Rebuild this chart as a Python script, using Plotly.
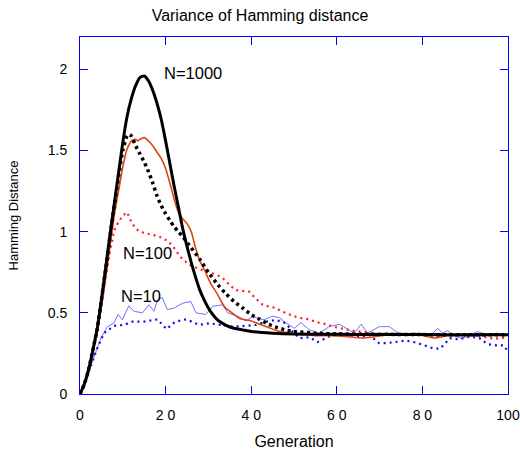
import plotly.graph_objects as go

# ---- data ----
gen_1000_mean = [0, 1, 2, 3, 4, 5, 6, 7, 8, 9, 10, 11, 12, 13, 14, 15, 16, 17, 18, 19, 20,
                 21, 22, 23, 24, 25, 26, 27, 28, 29, 30, 31, 32, 33, 34, 36, 38, 40, 45, 50,
                 60, 70, 80, 90, 100]
var_1000_mean = [0, 0.06, 0.15, 0.27, 0.40, 0.58, 0.78, 0.98, 1.17, 1.36, 1.55, 1.71, 1.82,
                 1.90, 1.95, 1.96, 1.93, 1.87, 1.79, 1.69, 1.56, 1.42, 1.28, 1.15, 1.02, 0.91,
                 0.81, 0.72, 0.64, 0.58, 0.53, 0.49, 0.46, 0.44, 0.425, 0.405, 0.395, 0.385,
                 0.375, 0.37, 0.368, 0.366, 0.366, 0.365, 0.365]

gen_1000_b = [0, 1, 2, 3, 4, 5, 6, 7, 8, 9, 10, 11, 11.5, 12, 13, 14, 15, 16, 17, 18, 19, 20,
              21, 22, 23, 24, 26, 28, 30, 32, 34, 36, 38, 40, 42, 44, 46, 48, 50, 55, 60, 70,
              80, 90, 100]
var_1000_b = [0, 0.06, 0.15, 0.27, 0.40, 0.58, 0.77, 0.97, 1.16, 1.34, 1.50, 1.59, 1.60, 1.59,
              1.53, 1.48, 1.43, 1.37, 1.30, 1.22, 1.16, 1.11, 1.07, 1.03, 1.00, 0.97, 0.90,
              0.83, 0.75, 0.68, 0.62, 0.57, 0.53, 0.49, 0.46, 0.43, 0.41, 0.395, 0.385, 0.375,
              0.37, 0.368, 0.366, 0.365, 0.365]

gen_100_mean = [0, 1, 2, 3, 4, 5, 6, 7, 8, 9, 10, 11, 12, 13, 13.5, 14, 15, 16, 17, 18, 19,
                20, 21, 22, 23, 24, 25, 26, 27, 28, 29, 30, 31, 32, 33, 34, 35, 36, 37, 38, 40,
                42, 44, 46, 48, 50, 52, 55, 58, 62, 66, 68, 72, 76, 80, 83, 86, 90, 95, 100]
var_100_mean = [0, 0.06, 0.14, 0.25, 0.38, 0.54, 0.72, 0.91, 1.10, 1.25, 1.40, 1.51, 1.56,
                1.57, 1.56, 1.57, 1.58, 1.56, 1.53, 1.49, 1.45, 1.39, 1.30, 1.20, 1.12, 1.08,
                1.05, 1.00, 0.90, 0.82, 0.77, 0.71, 0.66, 0.62, 0.57, 0.53, 0.51, 0.49, 0.47,
                0.46, 0.45, 0.43, 0.41, 0.39, 0.38, 0.37, 0.365, 0.36, 0.36, 0.355, 0.345,
                0.35, 0.365, 0.37, 0.36, 0.345, 0.36, 0.365, 0.37, 0.365]

gen_100_b = [0, 2, 4, 6, 7, 8, 9, 10, 11, 12, 13, 14, 15.5, 17, 18.5, 20, 21, 22, 23, 24, 25,
             26, 27, 28.5, 30, 31.5, 33, 34, 35, 36.4, 38, 39.6, 41, 42.7, 44, 45.8, 47, 49,
             51, 53.6, 55, 57.5, 60, 63.7, 67.6, 70, 75, 80, 85, 90, 94, 96.8, 98, 100]
var_100_b = [0, 0.14, 0.38, 0.70, 0.88, 1.01, 1.06, 1.10, 1.12, 1.06, 1.02, 1.00, 0.99, 0.98,
             0.97, 0.95, 0.93, 0.90, 0.86, 0.83, 0.81, 0.79, 0.78, 0.765, 0.75, 0.74, 0.72,
             0.70, 0.67, 0.64, 0.635, 0.63, 0.59, 0.55, 0.54, 0.53, 0.51, 0.49, 0.47, 0.46,
             0.445, 0.43, 0.41, 0.39, 0.375, 0.37, 0.37, 0.365, 0.36, 0.36, 0.355, 0.34,
             0.345, 0.35]

gen_10_mean = [0, 1, 2, 3, 4, 5, 6.4, 7.9, 8.9, 9.9, 11.4, 12.6, 14.6, 16.1, 17.3, 18.1, 19.2,
               20.4, 22, 24, 25.9, 27.1, 29.4, 31, 33.3, 34.5, 36.8, 38.8, 40.3, 43, 45, 46.6,
               48, 50.1, 51.6, 53.6, 55.9, 58.2, 60.6, 62.1, 64.1, 65.7, 67.2, 69.9, 72.3,
               73.8, 75.8, 78.1, 82, 83.6, 84.7, 85.9, 87.5, 89, 90.6, 92.9, 95.2, 97.6, 100]
var_10_mean = [0, 0.07, 0.15, 0.22, 0.29, 0.35, 0.415, 0.436, 0.49, 0.457, 0.543, 0.51, 0.50,
               0.55, 0.51, 0.58, 0.595, 0.52, 0.53, 0.56, 0.57, 0.50, 0.49, 0.54, 0.55, 0.50,
               0.48, 0.45, 0.477, 0.457, 0.48, 0.47, 0.44, 0.405, 0.44, 0.395, 0.375, 0.415,
               0.43, 0.405, 0.375, 0.43, 0.375, 0.415, 0.415, 0.385, 0.36, 0.375, 0.364,
               0.405, 0.375, 0.39, 0.36, 0.344, 0.354, 0.385, 0.364, 0.375, 0.36]

gen_10_b = [0, 1, 2.5, 4, 5.6, 7, 7.9, 10.3, 12.2, 15, 18.1, 20.2, 22.3, 24.8, 27.9, 30.2,
            32.5, 35.6, 38.8, 41.1, 43.5, 45.8, 48.1, 49.5, 51.2, 53.6, 55.5, 58.2, 60.6,
            63.3, 65.7, 67.6, 69.9, 71.5, 73.8, 76.2, 78.5, 80.4, 82, 84, 85.3, 86.3, 88.6,
            91, 93.3, 95.2, 97.2, 99, 100]
var_10_b = [0, 0.06, 0.17, 0.28, 0.375, 0.40, 0.42, 0.426, 0.446, 0.446, 0.46, 0.40, 0.446,
            0.46, 0.426, 0.436, 0.426, 0.415, 0.42, 0.426, 0.446, 0.457, 0.436, 0.39, 0.344,
            0.35, 0.32, 0.354, 0.375, 0.364, 0.35, 0.364, 0.313, 0.313, 0.32, 0.329, 0.317,
            0.30, 0.286, 0.278, 0.31, 0.344, 0.337, 0.354, 0.345, 0.307, 0.30, 0.30, 0.26]

x_tickvals = [0, 20, 40, 60, 80, 100]
x_ticktext = ["0", "2 0", "4 0", "6 0", "8 0", "100"]
y_tickvals = [0, 0.5, 1, 1.5, 2]
y_ticktext = ["0", "0.5", "1", "1.5", "2"]

labels = ["N=1000", "N=100", "N=10"]
label_x = [26.3, 15.8, 14.2]
label_y = [1.98, 0.868, 0.605]

FONT = "Liberation Sans, Arial, Helvetica, sans-serif"
AX = "#0000ff"

fig = go.Figure()
fig.add_trace(go.Scatter(x=gen_10_mean, y=var_10_mean, mode="lines",
                         line=dict(color="#7070ff", width=1), name="N=10"))
fig.add_trace(go.Scatter(x=gen_10_b, y=var_10_b, mode="lines",
                         line=dict(color="#1010dd", width=2.2, dash="2px,4px"), name="N=10 b"))
fig.add_trace(go.Scatter(x=gen_100_b, y=var_100_b, mode="lines",
                         line=dict(color="#ff1a1a", width=2.2, dash="2px,4px"), name="N=100 b"))
fig.add_trace(go.Scatter(x=gen_100_mean, y=var_100_mean, mode="lines",
                         line=dict(color="#dd4411", width=1.6, shape="spline", smoothing=0.4),
                         name="N=100"))
fig.add_trace(go.Scatter(x=gen_1000_b, y=var_1000_b, mode="lines",
                         line=dict(color="black", width=3.5, dash="3px,3.5px", shape="spline",
                                   smoothing=0.6), name="N=1000 b"))
fig.add_trace(go.Scatter(x=gen_1000_mean, y=var_1000_mean, mode="lines",
                         line=dict(color="black", width=3, shape="spline", smoothing=0.6),
                         name="N=1000"))

for t, lx, ly in zip(labels, label_x, label_y):
    fig.add_annotation(x=lx, y=ly, text=t, showarrow=False,
                       font=dict(family=FONT, size=16.5, color="black"))

axis_common = dict(showgrid=False, zeroline=False, showline=True, linecolor=AX, linewidth=1,
                   mirror="ticks", ticks="inside", ticklen=8, tickwidth=1, tickcolor=AX,
                   automargin=False,
                   tickfont=dict(family=FONT, size=14, color="black"))

fig.update_layout(
    width=520, height=450,
    margin=dict(l=80, r=12, t=37, b=56),
    paper_bgcolor="white", plot_bgcolor="white",
    showlegend=False,
    title=dict(text="Variance of Hamming distance", x=0.5, xref="container", xanchor="center",
               y=1 - 15 / 450, yref="container", yanchor="middle",
               font=dict(family=FONT, size=16, color="black")),
    xaxis=dict(range=[0, 100], tickvals=x_tickvals, ticktext=x_ticktext,
               title=dict(text="Generation", standoff=14,
                          font=dict(family=FONT, size=16, color="black")),
               ticklabelstandoff=8, **axis_common),
    yaxis=dict(range=[0, 2.2], tickvals=y_tickvals, ticktext=y_ticktext,
               title=dict(text="Hamming Distance", standoff=26,
                          font=dict(family=FONT, size=13, color="black")),
               ticklabelstandoff=9, **axis_common),
)

fig.write_html("out.html", config={"displayModeBar": False},
               post_script="document.body.style.margin='0px';")
